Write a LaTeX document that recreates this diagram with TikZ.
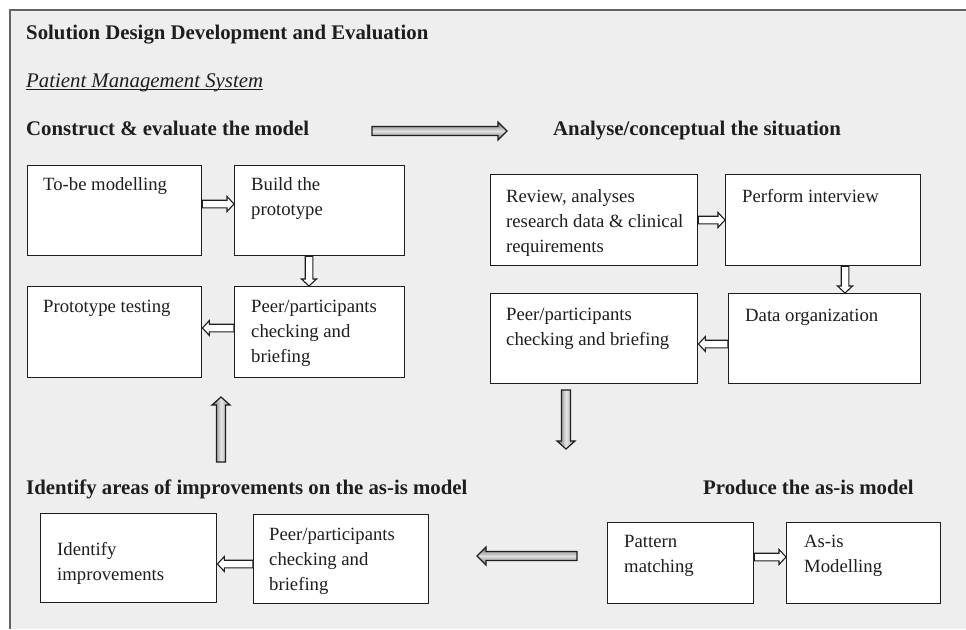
\documentclass[tikz,border=0pt]{standalone}
\usepackage{fontspec}
\setmainfont{Liberation Serif}
\usetikzlibrary{calc}
\definecolor{bgc}{RGB}{238,238,238}
\definecolor{ink}{RGB}{30,30,30}
\definecolor{framec}{RGB}{100,100,100}
\newcommand\bodyfont{\fontsize{18.7}{25}\selectfont}
\newcommand\headfont{\fontsize{20.8}{25}\selectfont\bfseries}
\tikzset{
  adims/.code n args={3}{\def\aw{#1}\def\ahw{#2}\def\ahl{#3}},
  blockarrow/.style={to path={
    ($(\tikztostart)!\aw!90:(\tikztotarget)$)
    -- ($($(\tikztotarget)!\ahl!(\tikztostart)$)!\aw!-90:(\tikztostart)$)
    -- ($($(\tikztotarget)!\ahl!(\tikztostart)$)!\ahw!-90:(\tikztostart)$)
    -- (\tikztotarget)
    -- ($($(\tikztotarget)!\ahl!(\tikztostart)$)!\ahw!90:(\tikztostart)$)
    -- ($($(\tikztotarget)!\ahl!(\tikztostart)$)!\aw!90:(\tikztostart)$)
    -- ($(\tikztostart)!\aw!-90:(\tikztotarget)$)
    -- cycle}},
  smallarrow/.style={blockarrow, adims={3.8pt}{7.5pt}{7pt}, draw=ink, fill=white, line width=1.1pt, line join=miter},
  bigh/.style={blockarrow, adims={4.5pt}{9pt}{9pt}, draw=ink, line width=1.2pt,
     top color=black!60, bottom color=black!55, middle color=black!12},
  bigv/.style={blockarrow, adims={4.5pt}{9pt}{8pt}, draw=ink, line width=1.2pt,
     left color=black!60, right color=black!45, middle color=black!10},
  box/.style={draw=ink, line width=1.4pt, fill=white, inner sep=0pt, anchor=north west},
  txt/.style={inner sep=0pt, anchor=base west, font=\bodyfont, text=ink},
  mtxt/.style={inner sep=0pt, anchor=north west, align=left, font=\bodyfont, text=ink},
  head/.style={inner sep=0pt, anchor=base west, font=\headfont, text=ink},
}
\begin{document}
\begin{tikzpicture}[x=1pt,y=-1pt]
\useasboundingbox (0,0) rectangle (966,629);
\fill[white] (0,0) rectangle (966,629);
\fill[bgc] (10,10) rectangle (966,629);
\draw[framec, line width=1.4pt] (10,629) -- (10,10) -- (966,10);

% headings
\node[head] (title) at (26,39) {Solution Design Development and Evaluation};
\node[head, font=\fontsize{20.8}{25}\selectfont\itshape] (pms) at (26,87) {Patient Management System};
\draw[ink, line width=1pt] ($(pms.base west)+(0,2.5)$) -- ($(pms.base east)+(0,2.5)$);
\node[head] (construct) at (26,135) {Construct \& evaluate the model};
\node[head] (analyse) at (553,135) {Analyse/conceptual the situation};
\node[head] (identifyh) at (26,494) {Identify areas of improvements on the as-is model};
\node[head] (produce) at (703,494) {Produce the as-is model};

% boxes
\node[box, minimum width=174, minimum height=90] (tobe) at (27,165) {};
\node[box, minimum width=170, minimum height=90] (build) at (234,165) {};
\node[box, minimum width=174, minimum height=91] (ptest) at (27,286) {};
\node[box, minimum width=170, minimum height=91] (peerL) at (234,286) {};
\node[box, minimum width=207, minimum height=91] (review) at (490,174) {};
\node[box, minimum width=195, minimum height=91] (perform) at (725,174) {};
\node[box, minimum width=207, minimum height=90] (peerR) at (490,293) {};
\node[box, minimum width=192, minimum height=90] (dataorg) at (728,293) {};
\node[box, minimum width=176, minimum height=89] (identify) at (40,513) {};
\node[box, minimum width=175, minimum height=89] (peerB) at (253,514) {};
\node[box, minimum width=146, minimum height=81] (pattern) at (607,522) {};
\node[box, minimum width=154, minimum height=81] (asis) at (786,522) {};

% box texts
\node[txt] (tobet) at (43,190) {To-be modelling};
\node[mtxt] (buildt) at (251,172.5) {\strut Build the\\prototype};
\node[txt] (ptestt) at (43,312) {Prototype testing};
\node[mtxt] (peerLt) at (251,294.5) {\strut Peer/participants\\checking and\\briefing};
\node[mtxt] (reviewt) at (506,184.5) {\strut Review, analyses\\research data \& clinical\\requirements};
\node[txt] (performt) at (742,202) {Perform interview};
\node[mtxt] (peerRt) at (506,302.5) {\strut Peer/participants\\checking and briefing};
\node[txt] (dataorgt) at (745,321) {Data organization};
\node[mtxt] (identifyt) at (57,537.5) {\strut Identify\\improvements};
\node[mtxt] (peerBt) at (269,522.5) {\strut Peer/participants\\checking and\\briefing};
\node[mtxt] (patternt) at (624,529.5) {\strut Pattern\\matching};
\node[mtxt] (asist) at (804,529.5) {\strut As-is\\Modelling};

% small arrows
\draw[smallarrow] ($(tobe.north east)+(0,39)$) to ($(build.north west)+(0,39)$);
\draw[smallarrow] ($(build.south west)+(75,0)$) to ($(peerL.north west)+(75,0)$);
\draw[smallarrow] ($(peerL.north west)+(0,42)$) to ($(ptest.north east)+(0,42)$);
\draw[smallarrow] ($(review.north east)+(0,46)$) to ($(perform.north west)+(0,46)$);
\draw[smallarrow] ($(perform.south west)+(120,0)$) to ($(dataorg.north west)+(117,0)$);
\draw[smallarrow] ($(dataorg.north west)+(0,51)$) to ($(peerR.north east)+(0,51)$);
\draw[smallarrow] ($(peerB.north west)+(0,50)$) to ($(identify.north east)+(0,51)$);
\draw[smallarrow] ($(pattern.north east)+(0,35)$) to ($(asis.north west)+(0,35)$);

% big arrows
\coordinate (g1s) at (372,131);
\coordinate (g1e) at (507,131);
\coordinate (g2s) at (566,390);
\coordinate (g2e) at (566,449);
\coordinate (g3s) at (577,556);
\coordinate (g3e) at (477,556);
\coordinate (g4s) at (221,462);
\coordinate (g4e) at (221,397);
\draw[bigh] (g1s) to (g1e);
\draw[bigv] (g2s) to (g2e);
\draw[bigh] (g3s) to (g3e);
\draw[bigv] (g4s) to (g4e);
\end{tikzpicture}
\end{document}
